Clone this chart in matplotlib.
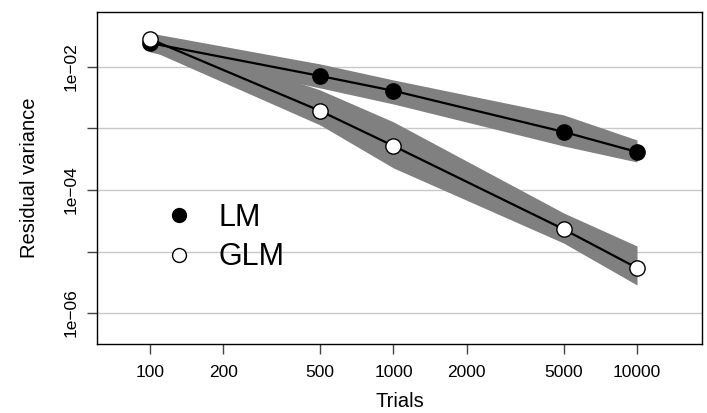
import matplotlib
matplotlib.use("Agg")
import matplotlib.pyplot as plt
from matplotlib.lines import Line2D

plt.rcParams["font.family"] = ["Liberation Sans", "DejaVu Sans"]

# Number of trials per simulation
trials = [100, 500, 1000, 5000, 10000]

# Median residual variance and the band around it, per model
lm_mid = [0.0245, 0.00714, 0.0041, 8.8e-4, 4.15e-4]
lm_upper = [0.0357, 0.0112, 0.00615, 0.00166, 6.5e-4]
lm_lower = [0.0175, 0.00456, 0.0025, 5.19e-4, 2.85e-4]

glm_mid = [0.0285, 1.93e-3, 5.2e-4, 2.3e-5, 5.4e-6]
glm_upper = [0.0357, 0.00423, 0.00128, 4.23e-5, 1.23e-5]
glm_lower = [0.0189, 0.00114, 2.28e-4, 1.37e-5, 2.85e-6]

x_ticks = [100, 200, 500, 1000, 2000, 5000, 10000]
y_ticks = [1e-2, 1e-3, 1e-4, 1e-5, 1e-6]
y_labels = ["1e\u221202", "", "1e\u221204", "", "1e\u221206"]

fig = plt.figure(figsize=(7.07, 4.13), dpi=100)
ax = fig.add_axes([0.137, 0.167, 0.856, 0.804])
ax.set_xscale("log")
ax.set_yscale("log")
ax.set_xlim(10 ** 1.782, 10 ** 4.267)
ax.set_ylim(10 ** -6.504, 10 ** -1.106)

for y in y_ticks:
    ax.axhline(y, color="#c8c8c8", lw=1.0, zorder=0)

ax.fill_between(trials, lm_lower, lm_upper, color="#808080", lw=0, zorder=1)
ax.fill_between(trials, glm_lower, glm_upper, color="#808080", lw=0, zorder=1)

ax.plot(trials, lm_mid, color="black", lw=1.6, zorder=2)
ax.plot(trials, glm_mid, color="black", lw=1.6, zorder=2)
ax.plot(trials, lm_mid, "o", ms=11, mfc="black", mec="black", mew=1, zorder=3)
ax.plot(trials, glm_mid, "o", ms=11, mfc="white", mec="black", mew=1, zorder=3)

ax.set_xticks(x_ticks)
ax.set_xticklabels([str(t) for t in x_ticks])
ax.xaxis.set_minor_locator(matplotlib.ticker.NullLocator())
ax.set_yticks(y_ticks)
ax.set_yticklabels(y_labels, rotation=90, va="center")
ax.yaxis.set_minor_locator(matplotlib.ticker.NullLocator())
ax.tick_params(axis="both", direction="out", length=7, width=1, color="#444444",
               labelsize=12.5)
ax.tick_params(axis="x", pad=8)
ax.tick_params(axis="y", pad=6)

for sp in ax.spines.values():
    sp.set_linewidth(1.0)
    sp.set_color("black")

ax.set_xlabel("Trials", fontsize=14.5, labelpad=9)
ax.set_ylabel("Residual variance", fontsize=14.5, labelpad=18)

handles = [
    Line2D([], [], ls="none", marker="o", ms=10, mfc="black", mec="black"),
    Line2D([], [], ls="none", marker="o", ms=10, mfc="white", mec="black"),
]
ax.legend(handles, ["LM", "GLM"], loc="center left",
          bbox_to_anchor=(0.039, 0.32), frameon=False, fontsize=22,
          handletextpad=0.3, labelspacing=0.3)

fig.savefig("out.png", dpi=100)
